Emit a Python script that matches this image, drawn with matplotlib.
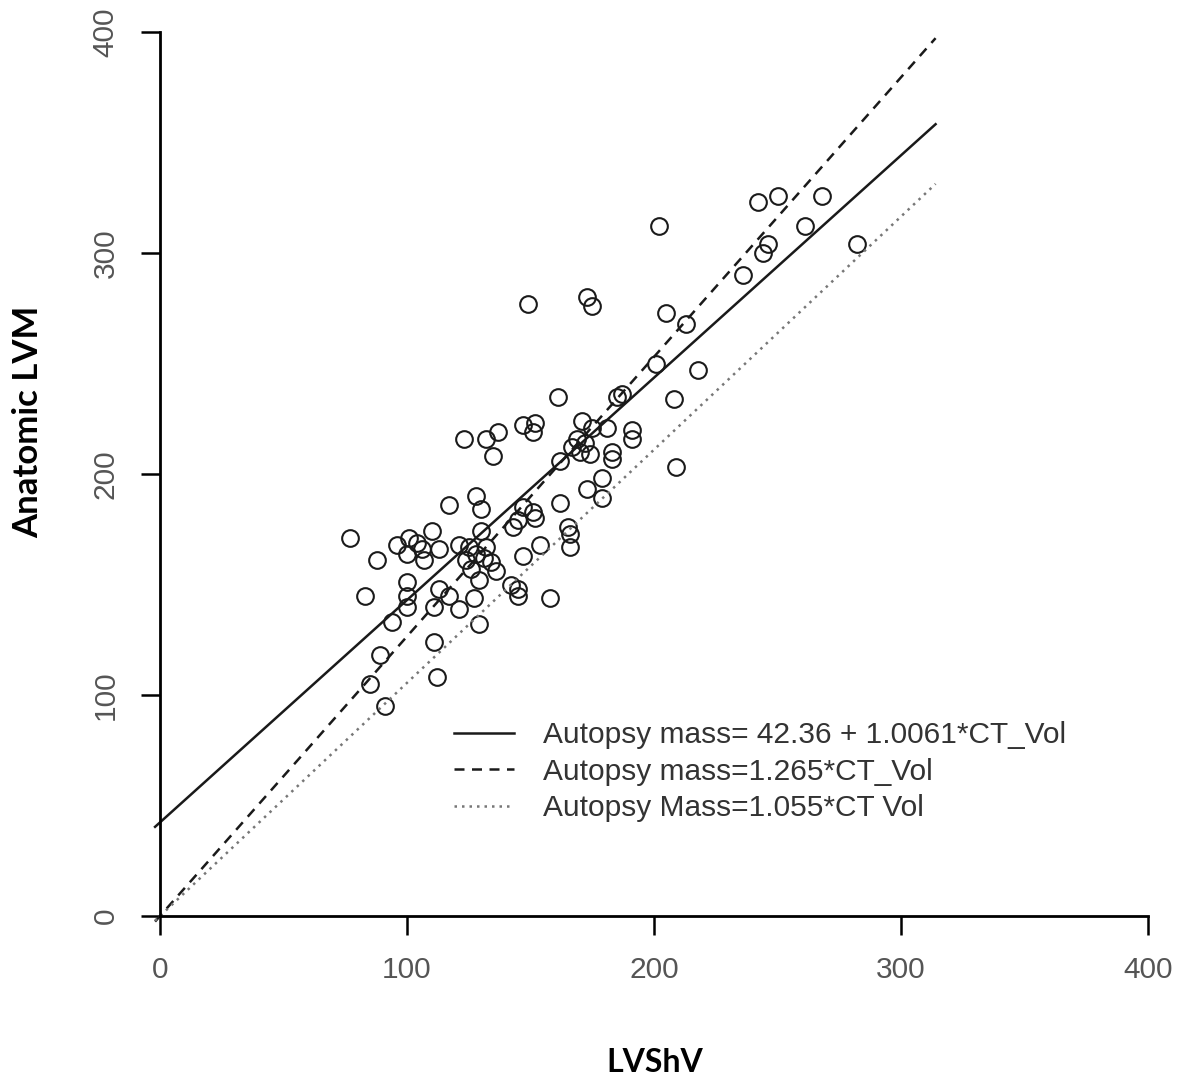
import numpy as np
import matplotlib
matplotlib.use("Agg")
import matplotlib.pyplot as plt
from matplotlib.lines import Line2D

# LVShV (x) and anatomic LVM (y)
lvshv = [77, 88, 83, 89, 85, 91, 112, 111, 129, 94,
         100, 100, 100, 96, 101, 104, 106, 100, 107, 110,
         113, 117, 130, 130, 121, 125, 128, 131, 134, 126,
         129, 136, 124, 132, 113, 117, 127, 111, 121, 142,
         145, 145, 147, 147, 145, 143, 123, 132, 137, 135,
         147, 152, 151, 171, 181, 169, 172, 167, 174, 170,
         183, 183, 162, 179, 173, 179, 162, 128, 152, 165,
         166, 166, 154, 158, 151, 149, 173, 175, 202, 205,
         213, 201, 218, 208, 209, 242, 250, 268, 261, 246,
         244, 236, 282, 161, 185, 187, 175, 191, 191]
lvm = [171, 161, 145, 118, 105, 95, 108, 124, 132, 133,
       151, 145, 140, 168, 171, 169, 166, 164, 161, 174,
       166, 186, 184, 174, 168, 167, 164, 162, 160, 157,
       152, 156, 161, 167, 148, 145, 144, 140, 139, 150,
       148, 145, 163, 185, 179, 176, 216, 216, 219, 208,
       222, 223, 219, 224, 221, 216, 214, 212, 209, 210,
       210, 207, 206, 198, 193, 189, 187, 190, 180, 176,
       173, 167, 168, 144, 183, 277, 280, 276, 312, 273,
       268, 250, 247, 234, 203, 323, 326, 326, 312, 304,
       300, 290, 304, 235, 235, 236, 221, 220, 216]

# fitted / reference lines: (intercept, slope, label)
fit_int = [42.36, 0.0, 0.0]
fit_slope = [1.0061, 1.265, 1.055]
fit_labels = ["Autopsy mass= 42.36 + 1.0061*CT_Vol",
              "Autopsy mass=1.265*CT_Vol",
              "Autopsy Mass=1.055*CT Vol"]
fit_styles = ["-", (0, (4, 3)), (0, (1, 2))]
fit_colors = ["#1a1a1a", "#1a1a1a", "#777777"]

ticks = [0, 100, 200, 300, 400]

fig = plt.figure(figsize=(11.81, 10.79), dpi=100)
ax = fig.add_axes([160/1181, 163/1079, 988/1181, 884/1079])

ax.set_xlim(0, 400)
ax.set_ylim(0, 400)

ax.plot(lvshv, lvm, "o", mfc="none", mec="#1a1a1a", ms=12, mew=1.5)

xs = np.array([-2.0, 314.0])
for b, m, ls, c in zip(fit_int, fit_slope, fit_styles, fit_colors):
    ax.plot(xs, b + m*xs, ls=ls, color=c, lw=1.8, clip_on=False)

for s in ["top", "right"]:
    ax.spines[s].set_visible(False)
for s in ["left", "bottom"]:
    ax.spines[s].set_linewidth(2.0)

ax.set_xticks(ticks)
ax.set_yticks(ticks)
ax.tick_params(direction="out", length=14, width=1.8, labelsize=21.5,
               labelcolor="#555555", pad=15, labelfontfamily="Liberation Sans")
plt.setp(ax.get_yticklabels(), rotation=90, va="center")

ax.set_xlabel("LVShV", fontsize=23, fontweight="bold", family="Lato")
ax.set_ylabel("Anatomic LVM", fontsize=25, fontweight="bold", family="Lato")
ax.xaxis.set_label_coords(0.501, -0.166)
ax.xaxis.label.set_va("center")
ax.yaxis.set_label_coords(-0.1336, 0.559)
ax.yaxis.label.set_va("center")

handles = [Line2D([], [], ls=ls, color=c, lw=1.8)
           for ls, c in zip(fit_styles, fit_colors)]
leg = ax.legend(handles, fit_labels, loc="lower left",
                bbox_to_anchor=(267/988, 67/884), frameon=False,
                prop={"family": "Liberation Sans", "size": 21.5},
                handlelength=2.0, handletextpad=1.0, labelspacing=0.28)
for t in leg.get_texts():
    t.set_color("#333333")

fig.savefig("out.png", dpi=100)
